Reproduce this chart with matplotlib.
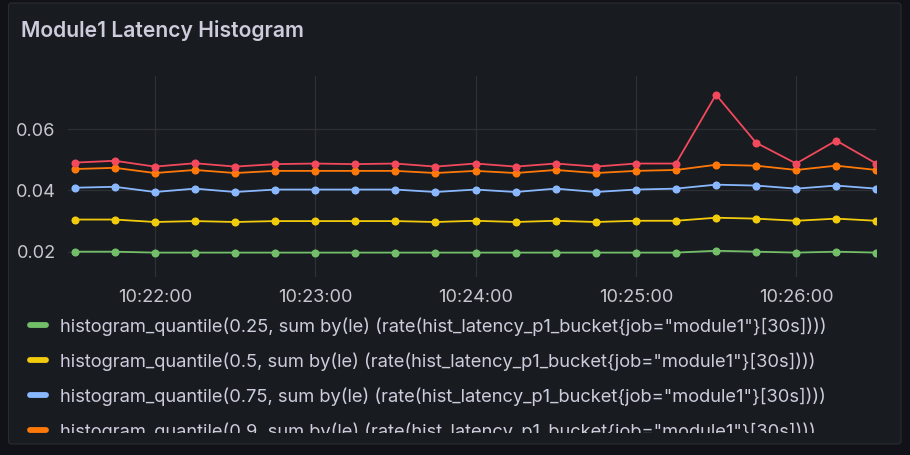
import pandas as pd
import matplotlib
matplotlib.use("Agg")
import matplotlib.pyplot as plt
import matplotlib.dates as mdates
from matplotlib.patches import FancyBboxPatch
from matplotlib.lines import Line2D
from matplotlib.transforms import IdentityTransform, Bbox

plt.rcParams['font.family'] = ['Inter', 'DejaVu Sans']

# data
times = ["10:21:30", "10:21:45", "10:22:00", "10:22:15", "10:22:30", "10:22:45",
         "10:23:00", "10:23:15", "10:23:30", "10:23:45", "10:24:00", "10:24:15",
         "10:24:30", "10:24:45", "10:25:00", "10:25:15", "10:25:30", "10:25:45",
         "10:26:00", "10:26:15", "10:26:30"]

q25 = [0.0200, 0.0200, 0.0197, 0.0197, 0.0197, 0.0197, 0.0197, 0.0197, 0.0197, 0.0197,
       0.0197, 0.0197, 0.0197, 0.0197, 0.0197, 0.0197, 0.0203, 0.0200, 0.0197, 0.0200, 0.0197]
q50 = [0.0305, 0.0305, 0.0297, 0.0300, 0.0297, 0.0300, 0.0300, 0.0300, 0.0300, 0.0297,
       0.0301, 0.0297, 0.0301, 0.0297, 0.0301, 0.0301, 0.0311, 0.0308, 0.0301, 0.0308, 0.0301]
q75 = [0.0409, 0.0412, 0.0395, 0.0406, 0.0395, 0.0403, 0.0403, 0.0403, 0.0403, 0.0395,
       0.0403, 0.0395, 0.0406, 0.0395, 0.0403, 0.0406, 0.0419, 0.0416, 0.0406, 0.0416, 0.0406]
q90 = [0.0470, 0.0474, 0.0457, 0.0467, 0.0457, 0.0464, 0.0464, 0.0464, 0.0464, 0.0457,
       0.0464, 0.0457, 0.0467, 0.0457, 0.0464, 0.0467, 0.0484, 0.0481, 0.0467, 0.0481, 0.0467]
q95 = [0.0491, 0.0497, 0.0478, 0.0489, 0.0478, 0.0486, 0.0488, 0.0486, 0.0488, 0.0478,
       0.0488, 0.0478, 0.0488, 0.0478, 0.0488, 0.0488, 0.0713, 0.0556, 0.0488, 0.0563, 0.0488]

quantiles = ["0.25", "0.5", "0.75", "0.9", "0.95"]
series = [q25, q50, q75, q90, q95]
colors = ["#73BF69", "#F2CC0C", "#8AB8FF", "#FF780A", "#F2495C"]
labels = ['histogram_quantile(%s, sum by(le) (rate(hist_latency_p1_bucket{job="module1"}[30s])))' % q
          for q in quantiles]

x = pd.to_datetime(["2024-01-01 " + t for t in times])

W, H = 910, 455
fig = plt.figure(figsize=(W / 100, H / 100), dpi=100)
fig.patch.set_facecolor("#111217")

# panel
panel = FancyBboxPatch((8.5, H - 444), 892.5, 441, boxstyle="round,pad=0,rounding_size=3",
                       transform=IdentityTransform(), facecolor="#181b1f",
                       edgecolor="#2a2c31", linewidth=0.8, zorder=-5)
fig.patches.append(panel)

fig.text(21 / W, 1 - 36.7 / H, "Module1 Latency Histogram", fontsize=15.2, fontweight="semibold",
         color="#ccccdc", ha="left", va="baseline")

left, right, top, bottom = 68.3, 876.3, 76, 277
ax = fig.add_axes([left / W, 1 - bottom / H, (right - left) / W, (bottom - top) / H])
ax.set_facecolor("none")

for vals, c, lab in zip(series, colors, labels):
    ax.plot(x, vals, color=c, lw=1.3, marker="o", markersize=5.8, markeredgewidth=0, label=lab)

ax.set_ylim(0.01173, 0.0774)
ax.set_xlim(x[0] - pd.Timedelta(seconds=2.4), x[-1])
ax.set_yticks([0.02, 0.04, 0.06])
ax.set_yticklabels(["0.02", "0.04", "0.06"])
ax.xaxis.set_major_locator(mdates.MinuteLocator())
ax.xaxis.set_major_formatter(mdates.DateFormatter("%H:%M:%S"))
ax.grid(True, color="#2e3035", lw=0.9)
ax.set_axisbelow(True)
for s in ax.spines.values():
    s.set_visible(False)
ax.tick_params(length=0, colors="#c7c7d1", labelsize=13.1)
ax.tick_params(axis="y", pad=9)
ax.tick_params(axis="x", pad=9)

# legend: only the rows that fit in the panel, the last one cut like the screenshot
clip = Bbox.from_extents(0, H - 432.5, W, H)
for i, (c, lab) in enumerate(zip(colors[:4], labels[:4])):
    yb = 331.7 + 35 * i
    yc = yb - 6.5
    ln = Line2D([29.5, 45.5], [H - yc, H - yc], color=c, lw=4.2, solid_capstyle="round",
                transform=IdentityTransform())
    ln.set_clip_box(clip)
    fig.add_artist(ln)
    t = fig.text(60 / W, 1 - yb / H, lab, fontsize=13.2, color="#ccccdc", ha="left", va="baseline")
    t.set_clip_box(clip)
    t.set_clip_on(True)

fig.savefig("out.png", dpi=100, facecolor=fig.get_facecolor())
